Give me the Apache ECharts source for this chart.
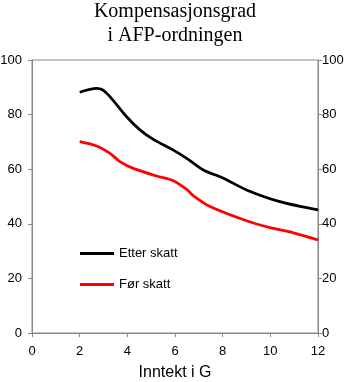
<!DOCTYPE html>
<html>
<head>
<meta charset="utf-8">
<script src="https://cdn.jsdelivr.net/npm/echarts@6/dist/echarts.min.js"></script>
<style>html,body{margin:0;padding:0;background:#fff}#c{width:350px;height:382px}</style>
</head>
<body>
<div id="c"></div>
<script>
var titleLines = ['Kompensasjonsgrad', 'i AFP-ordningen'];
var xTitle = 'Inntekt i G';
var seriesNames = ['Etter skatt', 'Før skatt'];
var etterX = [2, 2.71, 2.97, 3.27, 3.97, 4.53, 5.09, 5.93, 6.49, 7.19, 8.03, 9.0, 10.4, 12];
var etterY = [88.2, 89.6, 89.0, 86.6, 79.2, 74.4, 70.9, 67.0, 64.0, 59.7, 56.7, 52.4, 48.1, 45.1];
var forX = [2, 2.71, 3.27, 3.69, 4.25, 5.23, 5.93, 6.49, 6.77, 7.47, 9.0, 9.99, 10.97, 12];
var forY = [70.1, 68.5, 65.8, 62.8, 60.3, 57.5, 55.8, 52.6, 50.3, 46.3, 41.1, 38.6, 36.7, 34.1];

function pairs(xs, ys) { return xs.map(function (x, i) { return [x, ys[i]]; }); }

var chart = echarts.init(document.getElementById('c'));
function yAxisDef(pos, margin) {
  return {
    type: 'value', min: 0, max: 100, interval: 20, position: pos,
    axisLine: { show: true, lineStyle: { color: '#888', width: 1 } },
    axisTick: { show: true, length: 4, lineStyle: { color: '#888' } },
    axisLabel: { color: '#000', fontFamily: 'Liberation Sans', fontSize: 13, margin: margin },
    splitLine: { show: false }
  };
}
chart.setOption({
  animation: false,
  title: {
    text: titleLines.join('\n'), left: 'center', top: 0, padding: [0, 5],
    textStyle: { fontFamily: 'Liberation Serif', fontWeight: 'normal', fontSize: 20, lineHeight: 24, color: '#000' }
  },
  grid: { left: 32, right: 32, top: 60, bottom: 49, containLabel: false, outerBoundsMode: 'none',
          show: true, borderColor: '#888', borderWidth: 1 },
  legend: {
    orient: 'vertical', left: 75, top: 242, itemWidth: 34, itemHeight: 3, itemGap: 18,
    icon: 'rect',
    textStyle: { fontFamily: 'Liberation Sans', fontSize: 13, color: '#000' },
    data: seriesNames
  },
  xAxis: {
    type: 'value', min: 0, max: 12, interval: 2,
    name: xTitle, nameLocation: 'middle', nameGap: 32,
    nameTextStyle: { fontFamily: 'Liberation Sans', fontSize: 16, color: '#000' },
    axisLine: { show: true, onZero: false, lineStyle: { color: '#888', width: 1 } },
    axisTick: { show: true, length: 4, lineStyle: { color: '#888' } },
    axisLabel: { color: '#000', fontFamily: 'Liberation Sans', fontSize: 13, margin: 12 },
    splitLine: { show: false }
  },
  yAxis: [ yAxisDef('left', 10), yAxisDef('right', 4) ],
  series: [
    { name: seriesNames[0], type: 'line', data: pairs(etterX, etterY), smooth: 0.3, showSymbol: false,
      lineStyle: { color: '#000', width: 2.75 }, itemStyle: { color: '#000' } },
    { name: seriesNames[1], type: 'line', data: pairs(forX, forY), smooth: 0.3, showSymbol: false,
      lineStyle: { color: '#ff0000', width: 2.75 }, itemStyle: { color: '#ff0000' } }
  ]
});
</script>
</body>
</html>
